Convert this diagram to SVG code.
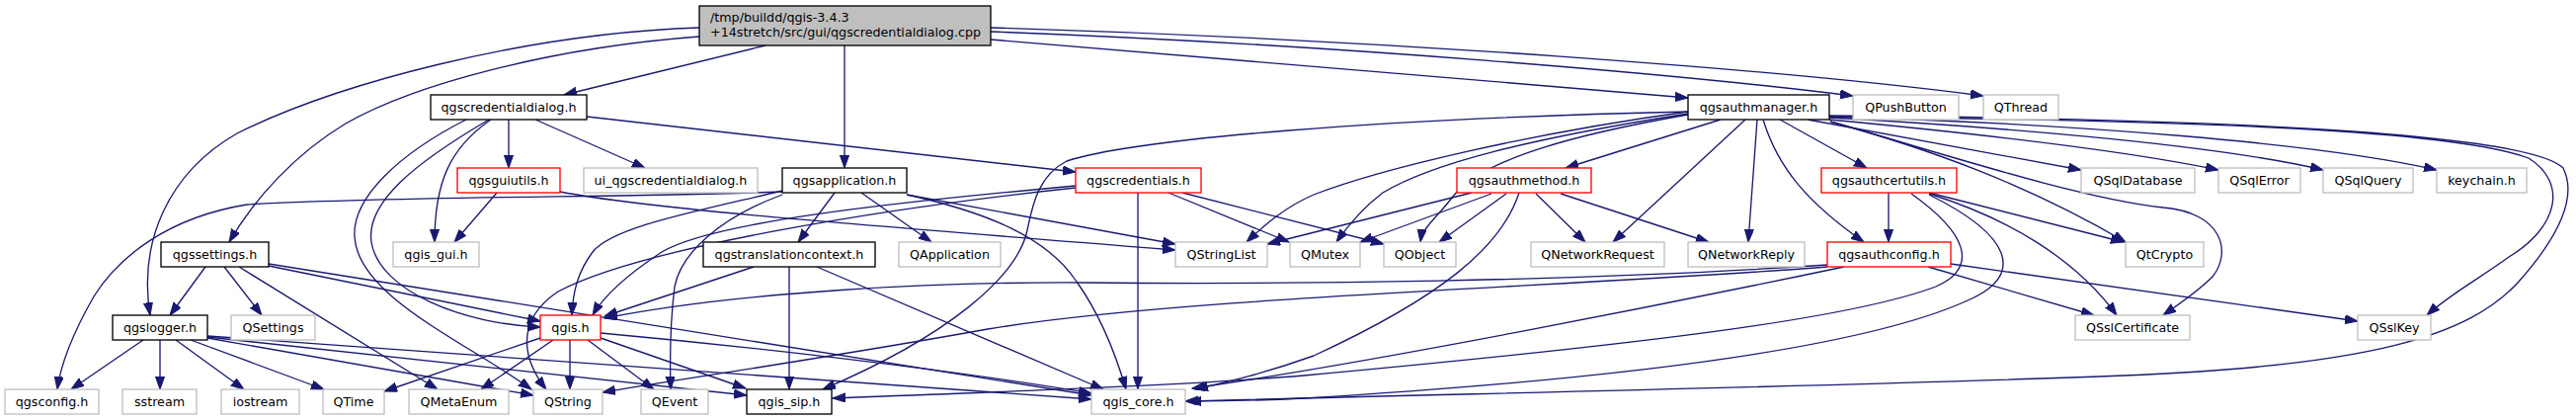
<svg xmlns="http://www.w3.org/2000/svg" width="2608" height="425" viewBox="0 0 2608 425">
<style>
rect{fill:#fff;stroke-width:1.33}
.g{stroke:#bfbfbf}.b{stroke:#000}.r{stroke:#ff0000}
.root{fill:#bfbfbf;stroke:#000}
text{font-family:"DejaVu Sans","Liberation Sans",sans-serif;font-size:12.7px;fill:#000;text-anchor:middle}
.e path{fill:none;stroke:#191970;stroke-width:1.33;marker-end:url(#a)}
</style>
<defs>
<marker id="a" markerUnits="userSpaceOnUse" markerWidth="14" markerHeight="10" refX="13" refY="4.6" orient="auto">
<path d="M0,0 L13,4.6 L0,9.2 z" fill="#191970" stroke="#191970" stroke-width="1"/>
</marker>
</defs>
<rect width="2608" height="425" fill="#fff" stroke="none"/>
<g class="e" id="edges">
<path d="M775,46 L571,96"/>
<path d="M855,46 L855,170"/>
<path d="M708,28 C530,34 340,85 240,135 C170,175 140,245 152,319"/>
<path d="M708,37 C560,48 420,85 350,125 C300,155 258,200 232,245"/>
<path d="M1003,40 L1709,99"/>
<path d="M1003,32 C1350,45 1700,75 1876,97"/>
<path d="M1003,28 C1400,40 1800,70 2008,97"/>
<path d="M515,121 L515,170"/>
<path d="M542,121 L653,170"/>
<path d="M497,121 C455,150 440,185 440,245"/>
<path d="M594,118 L1089,174"/>
<path d="M495,121 C420,165 370,205 376,245 C384,295 470,328 547,331"/>
<path d="M472,121 C405,155 356,200 359,240 C363,300 470,345 538,394"/>
<path d="M503,195 L460,245"/>
<path d="M567,194 C650,210 800,222 1190,253"/>
<path d="M872,195 L943,245"/>
<path d="M845,195 L808,245"/>
<path d="M792,193 C700,215 620,230 600,255 C585,275 580,295 579,319"/>
<path d="M792,197 C730,220 690,255 683,290 C678,330 678,360 679,394"/>
<path d="M792,194 C650,200 400,198 250,207 C170,220 120,260 95,300 C75,335 62,365 58,394"/>
<path d="M918,197 L1190,247"/>
<path d="M918,197 C1000,215 1060,240 1090,285 C1115,320 1130,360 1140,394"/>
<path d="M763,270 L612,320"/>
<path d="M799,270 L799,394"/>
<path d="M827,270 L1117,394"/>
<path d="M208,270 L172,319"/>
<path d="M227,270 L265,319"/>
<path d="M242,270 L443,394"/>
<path d="M272,267 L1105,400"/>
<path d="M272,269 L547,325"/>
<path d="M145,344 L72,394"/>
<path d="M162,344 L162,394"/>
<path d="M178,344 L247,394"/>
<path d="M193,344 L328,394"/>
<path d="M210,342 L540,400"/>
<path d="M210,341 L756,400"/>
<path d="M210,340 L1105,404"/>
<path d="M547,342 L389,396"/>
<path d="M560,344 L487,394"/>
<path d="M577,344 L577,394"/>
<path d="M595,344 L662,394"/>
<path d="M608,342 L755,393"/>
<path d="M608,337 C750,350 950,372 1105,398"/>
<path d="M1152,195 L1152,394"/>
<path d="M1183,195 L1305,245"/>
<path d="M1197,195 L1401,247"/>
<path d="M1089,188 C900,205 720,225 670,255 C635,278 612,298 600,319"/>
<path d="M1089,190 C900,210 650,250 565,295 C520,325 530,365 553,394"/>
<path d="M1742,121 L1585,170"/>
<path d="M1767,121 L1633,245"/>
<path d="M1779,121 L1770,245"/>
<path d="M1785,121 C1800,170 1830,205 1887,245"/>
<path d="M1802,121 L1890,170"/>
<path d="M1830,121 L2107,172"/>
<path d="M1852,121 C2000,135 2150,152 2246,172"/>
<path d="M1852,119 C2050,130 2250,148 2352,172"/>
<path d="M1852,118 C2100,125 2350,145 2467,172"/>
<path d="M1852,118 C2200,122 2480,130 2560,160 C2600,185 2590,230 2540,260 C2510,282 2480,298 2457,319"/>
<path d="M1852,117 C2250,120 2560,135 2595,170 C2610,200 2590,240 2550,285 C2500,340 2400,370 2150,380 C1900,390 1500,398 1200,406"/>
<path d="M1853,123 C1950,150 2100,200 2190,210 C2250,215 2260,255 2240,280 C2225,295 2210,305 2190,319"/>
<path d="M1853,123 C1950,150 2050,185 2152,245"/>
<path d="M1709,113 C1550,135 1400,170 1330,197 C1300,210 1280,228 1262,245"/>
<path d="M1709,115 C1550,140 1450,165 1400,195 C1380,210 1365,228 1353,245"/>
<path d="M1709,116 C1600,135 1500,160 1470,200 C1455,220 1440,230 1438,245"/>
<path d="M1709,113 C1400,120 1150,140 1080,163 C1050,178 1045,210 1040,233 C1030,280 960,340 833,394"/>
<path d="M1490,195 L1283,247"/>
<path d="M1510,196 L1377,245"/>
<path d="M1525,196 L1457,245"/>
<path d="M1555,196 L1605,245"/>
<path d="M1580,196 L1730,245"/>
<path d="M1538,195 C1520,250 1460,300 1330,360 C1280,378 1240,387 1210,394"/>
<path d="M1912,195 L1912,245"/>
<path d="M1953,195 L2150,245"/>
<path d="M1953,196 C2030,220 2100,260 2143,319"/>
<path d="M1935,196 C1990,235 2005,270 1960,290 C1880,320 1700,345 1320,380 C1200,390 1000,397 843,403"/>
<path d="M1953,197 C2040,240 2050,280 1990,305 C1900,345 1700,380 1320,403 C1280,405 1240,406 1203,406"/>
<path d="M1952,270 L2120,319"/>
<path d="M1975,267 L2387,325"/>
<path d="M1850,268 C1600,285 1300,288 1100,286 C950,285 750,295 612,322"/>
<path d="M1850,270 C1600,290 1200,300 1000,333 C850,360 700,382 610,397"/>
<path d="M1867,270 C1700,305 1400,365 1207,393"/>
</g>
<g id="n_root"><rect class="root" x="708" y="6" width="295" height="40"/><text x="719" y="21.5" style="text-anchor:start">/tmp/buildd/qgis-3.4.3</text><text x="719" y="36.5" style="text-anchor:start">+14stretch/src/gui/qgscredentialdialog.cpp</text></g>
<g id="n_qgscredentialdialog_h"><rect class="b" x="436" y="96" width="158" height="25"/><text x="515" y="113">qgscredentialdialog.h</text></g>
<g id="n_qgsauthmanager_h"><rect class="b" x="1709" y="96" width="143" height="25"/><text x="1780.5" y="113">qgsauthmanager.h</text></g>
<g id="n_QPushButton"><rect class="g" x="1876" y="96" width="107" height="25"/><text x="1929.5" y="113">QPushButton</text></g>
<g id="n_QThread"><rect class="g" x="2008" y="96" width="76" height="25"/><text x="2046" y="113">QThread</text></g>
<g id="n_qgsguiutils_h"><rect class="r" x="463" y="170" width="104" height="25"/><text x="515" y="187">qgsguiutils.h</text></g>
<g id="n_ui_qgscredentialdialog_h"><rect class="g" x="591" y="170" width="176" height="25"/><text x="679" y="187">ui_qgscredentialdialog.h</text></g>
<g id="n_qgsapplication_h"><rect class="b" x="792" y="170" width="126" height="25"/><text x="855" y="187">qgsapplication.h</text></g>
<g id="n_qgscredentials_h"><rect class="r" x="1089" y="170" width="127" height="25"/><text x="1152.5" y="187">qgscredentials.h</text></g>
<g id="n_qgsauthmethod_h"><rect class="r" x="1475" y="170" width="136" height="25"/><text x="1543" y="187">qgsauthmethod.h</text></g>
<g id="n_qgsauthcertutils_h"><rect class="r" x="1844" y="170" width="137" height="25"/><text x="1912.5" y="187">qgsauthcertutils.h</text></g>
<g id="n_QSqlDatabase"><rect class="g" x="2107" y="170" width="115" height="25"/><text x="2164.5" y="187">QSqlDatabase</text></g>
<g id="n_QSqlError"><rect class="g" x="2246" y="170" width="83" height="25"/><text x="2287.5" y="187">QSqlError</text></g>
<g id="n_QSqlQuery"><rect class="g" x="2352" y="170" width="91" height="25"/><text x="2397.5" y="187">QSqlQuery</text></g>
<g id="n_keychain_h"><rect class="g" x="2467" y="170" width="91" height="25"/><text x="2512.5" y="187">keychain.h</text></g>
<g id="n_qgssettings_h"><rect class="b" x="163" y="245" width="109" height="25"/><text x="217.5" y="262">qgssettings.h</text></g>
<g id="n_qgis_gui_h"><rect class="g" x="398" y="245" width="87" height="25"/><text x="441.5" y="262">qgis_gui.h</text></g>
<g id="n_qgstranslationcontext_h"><rect class="b" x="712" y="245" width="174" height="25"/><text x="799" y="262">qgstranslationcontext.h</text></g>
<g id="n_QApplication"><rect class="g" x="910" y="245" width="103" height="25"/><text x="961.5" y="262">QApplication</text></g>
<g id="n_QStringList"><rect class="g" x="1190" y="245" width="93" height="25"/><text x="1236.5" y="262">QStringList</text></g>
<g id="n_QMutex"><rect class="g" x="1306" y="245" width="71" height="25"/><text x="1341.5" y="262">QMutex</text></g>
<g id="n_QObject"><rect class="g" x="1401" y="245" width="73" height="25"/><text x="1437.5" y="262">QObject</text></g>
<g id="n_QNetworkRequest"><rect class="g" x="1550" y="245" width="135" height="25"/><text x="1617.5" y="262">QNetworkRequest</text></g>
<g id="n_QNetworkReply"><rect class="g" x="1709" y="245" width="118" height="25"/><text x="1768" y="262">QNetworkReply</text></g>
<g id="n_qgsauthconfig_h"><rect class="r" x="1850" y="245" width="125" height="25"/><text x="1912.5" y="262">qgsauthconfig.h</text></g>
<g id="n_QtCrypto"><rect class="g" x="2152" y="245" width="79" height="25"/><text x="2191.5" y="262">QtCrypto</text></g>
<g id="n_qgslogger_h"><rect class="b" x="114" y="319" width="96" height="25"/><text x="162" y="336">qgslogger.h</text></g>
<g id="n_QSettings"><rect class="g" x="234" y="319" width="85" height="25"/><text x="276.5" y="336">QSettings</text></g>
<g id="n_qgis_h"><rect class="r" x="547" y="319" width="61" height="25"/><text x="577.5" y="336">qgis.h</text></g>
<g id="n_QSslCertificate"><rect class="g" x="2101" y="319" width="116" height="25"/><text x="2159" y="336">QSslCertificate</text></g>
<g id="n_QSslKey"><rect class="g" x="2387" y="319" width="74" height="25"/><text x="2424" y="336">QSslKey</text></g>
<g id="n_qgsconfig_h"><rect class="g" x="5" y="394" width="95" height="25"/><text x="52.5" y="411">qgsconfig.h</text></g>
<g id="n_sstream"><rect class="g" x="124" y="394" width="75" height="25"/><text x="161.5" y="411">sstream</text></g>
<g id="n_iostream"><rect class="g" x="224" y="394" width="79" height="25"/><text x="263.5" y="411">iostream</text></g>
<g id="n_QTime"><rect class="g" x="327" y="394" width="62" height="25"/><text x="358" y="411">QTime</text></g>
<g id="n_QMetaEnum"><rect class="g" x="414" y="394" width="101" height="25"/><text x="464.5" y="411">QMetaEnum</text></g>
<g id="n_QString"><rect class="g" x="540" y="394" width="70" height="25"/><text x="575" y="411">QString</text></g>
<g id="n_QEvent"><rect class="g" x="649" y="394" width="68" height="25"/><text x="683" y="411">QEvent</text></g>
<g id="n_qgis_sip_h"><rect class="b" x="756" y="394" width="86" height="25"/><text x="799" y="411">qgis_sip.h</text></g>
<g id="n_qgis_core_h"><rect class="g" x="1105" y="394" width="95" height="25"/><text x="1152.5" y="411">qgis_core.h</text></g>
</svg>
